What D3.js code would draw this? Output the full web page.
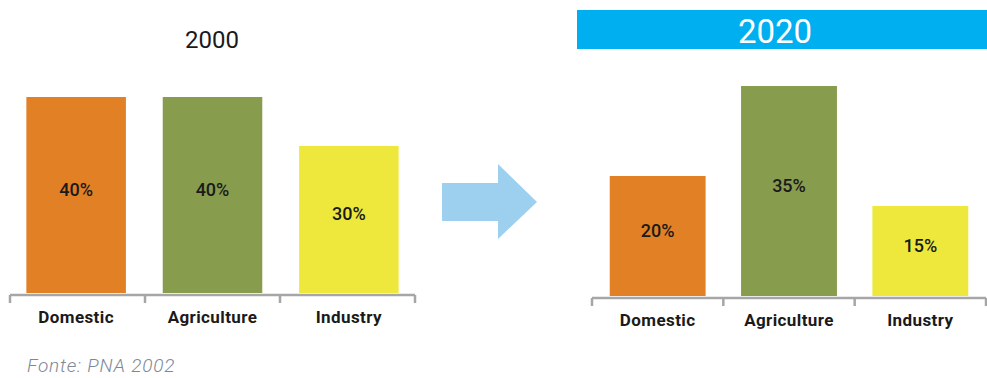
<!DOCTYPE html>
<html>
<head>
<meta charset="utf-8">
<script src="https://cdn.jsdelivr.net/npm/d3@7"></script>
<style>
  body { margin: 0; background: #fff; }
  svg { display: block; font-family: Roboto, "Noto Sans", sans-serif; }
</style>
</head>
<body>
<div id="chart"></div>
<script>
// data
var categories = ["Domestic", "Agriculture", "Industry"];
var values2000 = [40, 40, 30];
var values2020 = [20, 35, 15];
var barColors = ["#e28026", "#889c4e", "#efe83c"];

var width = 987,
  height = 378;

var svg = d3
  .select("#chart")
  .append("svg")
  .attr("width", width)
  .attr("height", height);

function drawPanel(values, x0, x1, base, top, maxVal, padOuter) {
  var xscale = d3
    .scaleBand()
    .domain(categories)
    .range([x0, x1])
    .paddingInner(0.27)
    .paddingOuter(padOuter);

  var yscale = d3.scaleLinear().domain([0, maxVal]).range([base, top]);

  var g = svg.append("g");

  g.selectAll("rect")
    .data(values)
    .enter()
    .append("rect")
    .attr("x", (d, i) => xscale(categories[i]))
    .attr("y", (d) => yscale(d))
    .attr("width", xscale.bandwidth())
    .attr("height", (d) => base - yscale(d))
    .attr("fill", (d, i) => barColors[i]);

  g.selectAll(".val")
    .data(values)
    .enter()
    .append("text")
    .attr("class", "val")
    .attr("x", (d, i) => xscale(categories[i]) + xscale.bandwidth() / 2)
    .attr("y", (d) => (yscale(d) + base) / 2 - 4)
    .attr("text-anchor", "middle")
    .attr("dominant-baseline", "middle")
    .attr("font-size", 18)
    .attr("font-weight", 500)
    .attr("fill", "#1a1a1a")
    .text((d) => d + "%");

  // axis line, ticks at the group edges
  var third = (x1 - x0) / 3;
  var edges = [x0, x0 + third, x0 + 2 * third, x1];
  var axisY = base + 2;
  g.append("line")
    .attr("x1", x0)
    .attr("x2", x1)
    .attr("y1", axisY)
    .attr("y2", axisY)
    .attr("stroke", "#a6a6a6")
    .attr("stroke-width", 2.5);
  g.selectAll(".tick")
    .data(edges)
    .enter()
    .append("line")
    .attr("x1", (d) => d)
    .attr("x2", (d) => d)
    .attr("y1", axisY)
    .attr("y2", axisY + 8)
    .attr("stroke", "#a6a6a6")
    .attr("stroke-width", 2.5);

  g.selectAll(".cat")
    .data(categories)
    .enter()
    .append("text")
    .attr("class", "cat")
    .attr("x", (d) => xscale(d) + xscale.bandwidth() / 2)
    .attr("y", axisY + 28)
    .attr("text-anchor", "middle")
    .attr("font-size", 17)
    .attr("font-weight", "bold")
    .attr("letter-spacing", 0.4)
    .attr("fill", "#1a1a1a")
    .text((d) => d);
}

drawPanel(values2000, 10, 415, 293, 97, 40, 0.12);
drawPanel(values2020, 592, 986, 296, 86, 35, 0.135);

// titles
svg
  .append("text")
  .attr("x", 212)
  .attr("y", 48)
  .attr("text-anchor", "middle")
  .attr("font-size", 24)
  .attr("fill", "#1a1a1a")
  .text("2000");

svg
  .append("rect")
  .attr("x", 577)
  .attr("y", 10)
  .attr("width", 410)
  .attr("height", 39)
  .attr("fill", "#00afef");

svg
  .append("text")
  .attr("x", 775)
  .attr("y", 43)
  .attr("text-anchor", "middle")
  .attr("font-size", 33)
  .attr("fill", "#fff")
  .text("2020");

// arrow
svg
  .append("path")
  .attr("d", "M442,183 L498,183 L498,164 L537,202 L498,239 L498,221 L442,221 Z")
  .attr("fill", "#9dcfef");

// source note
svg
  .append("text")
  .attr("x", 27)
  .attr("y", 372)
  .attr("font-size", 19)
  .attr("font-style", "italic")
  .attr("font-weight", 300)
  .attr("letter-spacing", 0.8)
  .attr("fill", "#7d8896")
  .text("Fonte: PNA 2002");
</script>
</body>
</html>
